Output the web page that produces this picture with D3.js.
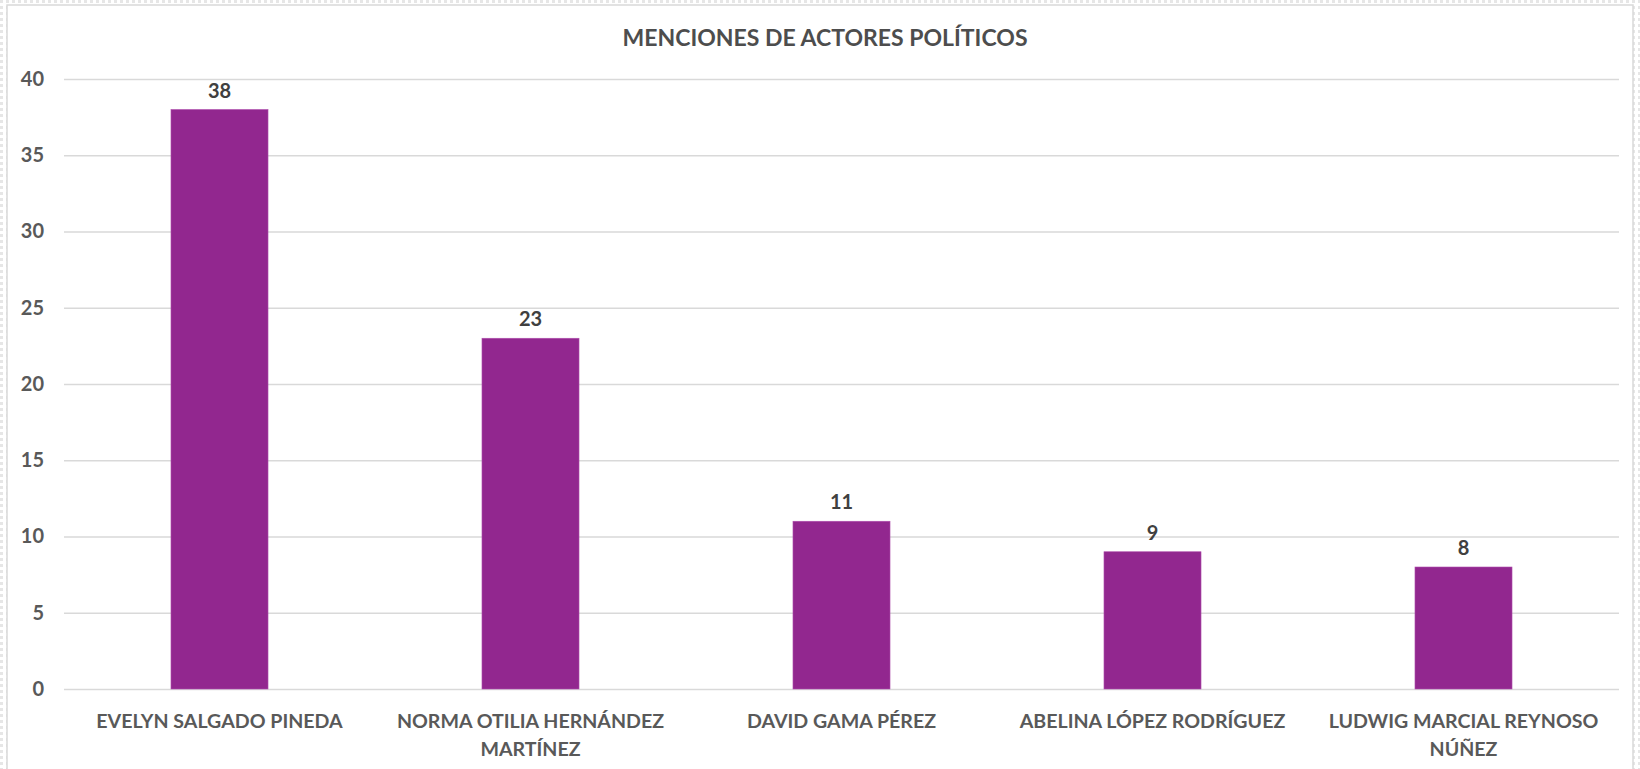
<!DOCTYPE html>
<html><head><meta charset="utf-8">
<script src="https://cdn.jsdelivr.net/npm/d3@7"></script>
<style>
html,body{margin:0;padding:0;background:#fff;}
svg{display:block;}
text{font-family:Lato,"Open Sans",sans-serif;font-weight:700;}
</style></head>
<body>
<svg id="chart" width="1640" height="769"></svg>
<script>
const categories = [
  ["EVELYN SALGADO PINEDA"],
  ["NORMA OTILIA HERNÁNDEZ","MARTÍNEZ"],
  ["DAVID GAMA PÉREZ"],
  ["ABELINA LÓPEZ RODRÍGUEZ"],
  ["LUDWIG MARCIAL REYNOSO","NÚÑEZ"]
];
const values = [38, 23, 11, 9, 8];
const yTicks = [0, 5, 10, 15, 20, 25, 30, 35, 40];
const title = "MENCIONES DE ACTORES POLÍTICOS";

const svg = d3.select("#chart");
const W = 1640, H = 769;
const x0 = 64, x1 = 1619, yTop = 79, yBot = 689;

// dotted background outside frame
const pat = svg.append("defs").append("pattern").attr("id","dots").attr("width",6).attr("height",6).attr("patternUnits","userSpaceOnUse");
pat.append("rect").attr("width",3).attr("height",3).attr("fill","#e6e6e6");
svg.append("rect").attr("width",W).attr("height",H).attr("fill","url(#dots)");
svg.append("rect").attr("x",7).attr("y",5).attr("width",1626).attr("height",770).attr("fill","#fff").attr("stroke","#d9d9d9").attr("stroke-width",1.5);

const keys = categories.map(c => c.join(" "));
const x = d3.scaleBand().domain(keys).range([x0, x1]).paddingInner(0.688).paddingOuter(0.344);
const y = d3.scaleLinear().domain([0, 40]).range([yBot, yTop]);

// gridlines
const yAxis = d3.axisLeft(y).tickValues(yTicks).tickSize(-(x1 - x0)).tickPadding(22);
const gy = svg.append("g").attr("transform", `translate(${x0},0)`).call(yAxis);
gy.select(".domain").remove();
gy.selectAll(".tick line").attr("stroke","#d9d9d9").attr("stroke-width",1.5);
gy.selectAll(".tick text").attr("fill","#595959").style("font-size","20px").attr("text-anchor","end").attr("x",-20);

// bars
svg.append("g").selectAll("rect").data(values).join("rect")
  .attr("x",(d,i)=>x(keys[i])).attr("width",x.bandwidth())
  .attr("y",d=>y(d)).attr("height",d=>y(0)-y(d))
  .attr("fill","#92278f").attr("stroke","#b04fad").attr("stroke-width",0.6);

// data labels
svg.append("g").selectAll("text").data(values).join("text")
  .attr("x",(d,i)=>x(keys[i])+x.bandwidth()/2).attr("y",d=>y(d)-12)
  .attr("text-anchor","middle").attr("fill","#404040").style("font-size","20px")
  .text(d=>d);

// x axis labels
const xl = svg.append("g").selectAll("text").data(categories).join("text")
  .attr("x",(d,i)=>x(keys[i])+x.bandwidth()/2).attr("y",728)
  .attr("text-anchor","middle").attr("fill","#595959").style("font-size","19.6px");
xl.selectAll("tspan").data(d=>d).join("tspan")
  .attr("x",function(){return this.parentNode.getAttribute("x");})
  .attr("dy",(d,i)=>i===0?0:28).text(d=>d);

// title
svg.append("text").attr("x",825).attr("y",46).attr("text-anchor","middle")
  .attr("fill","#4d4d4d").style("font-size","23px").text(title);
</script>
</body></html>
